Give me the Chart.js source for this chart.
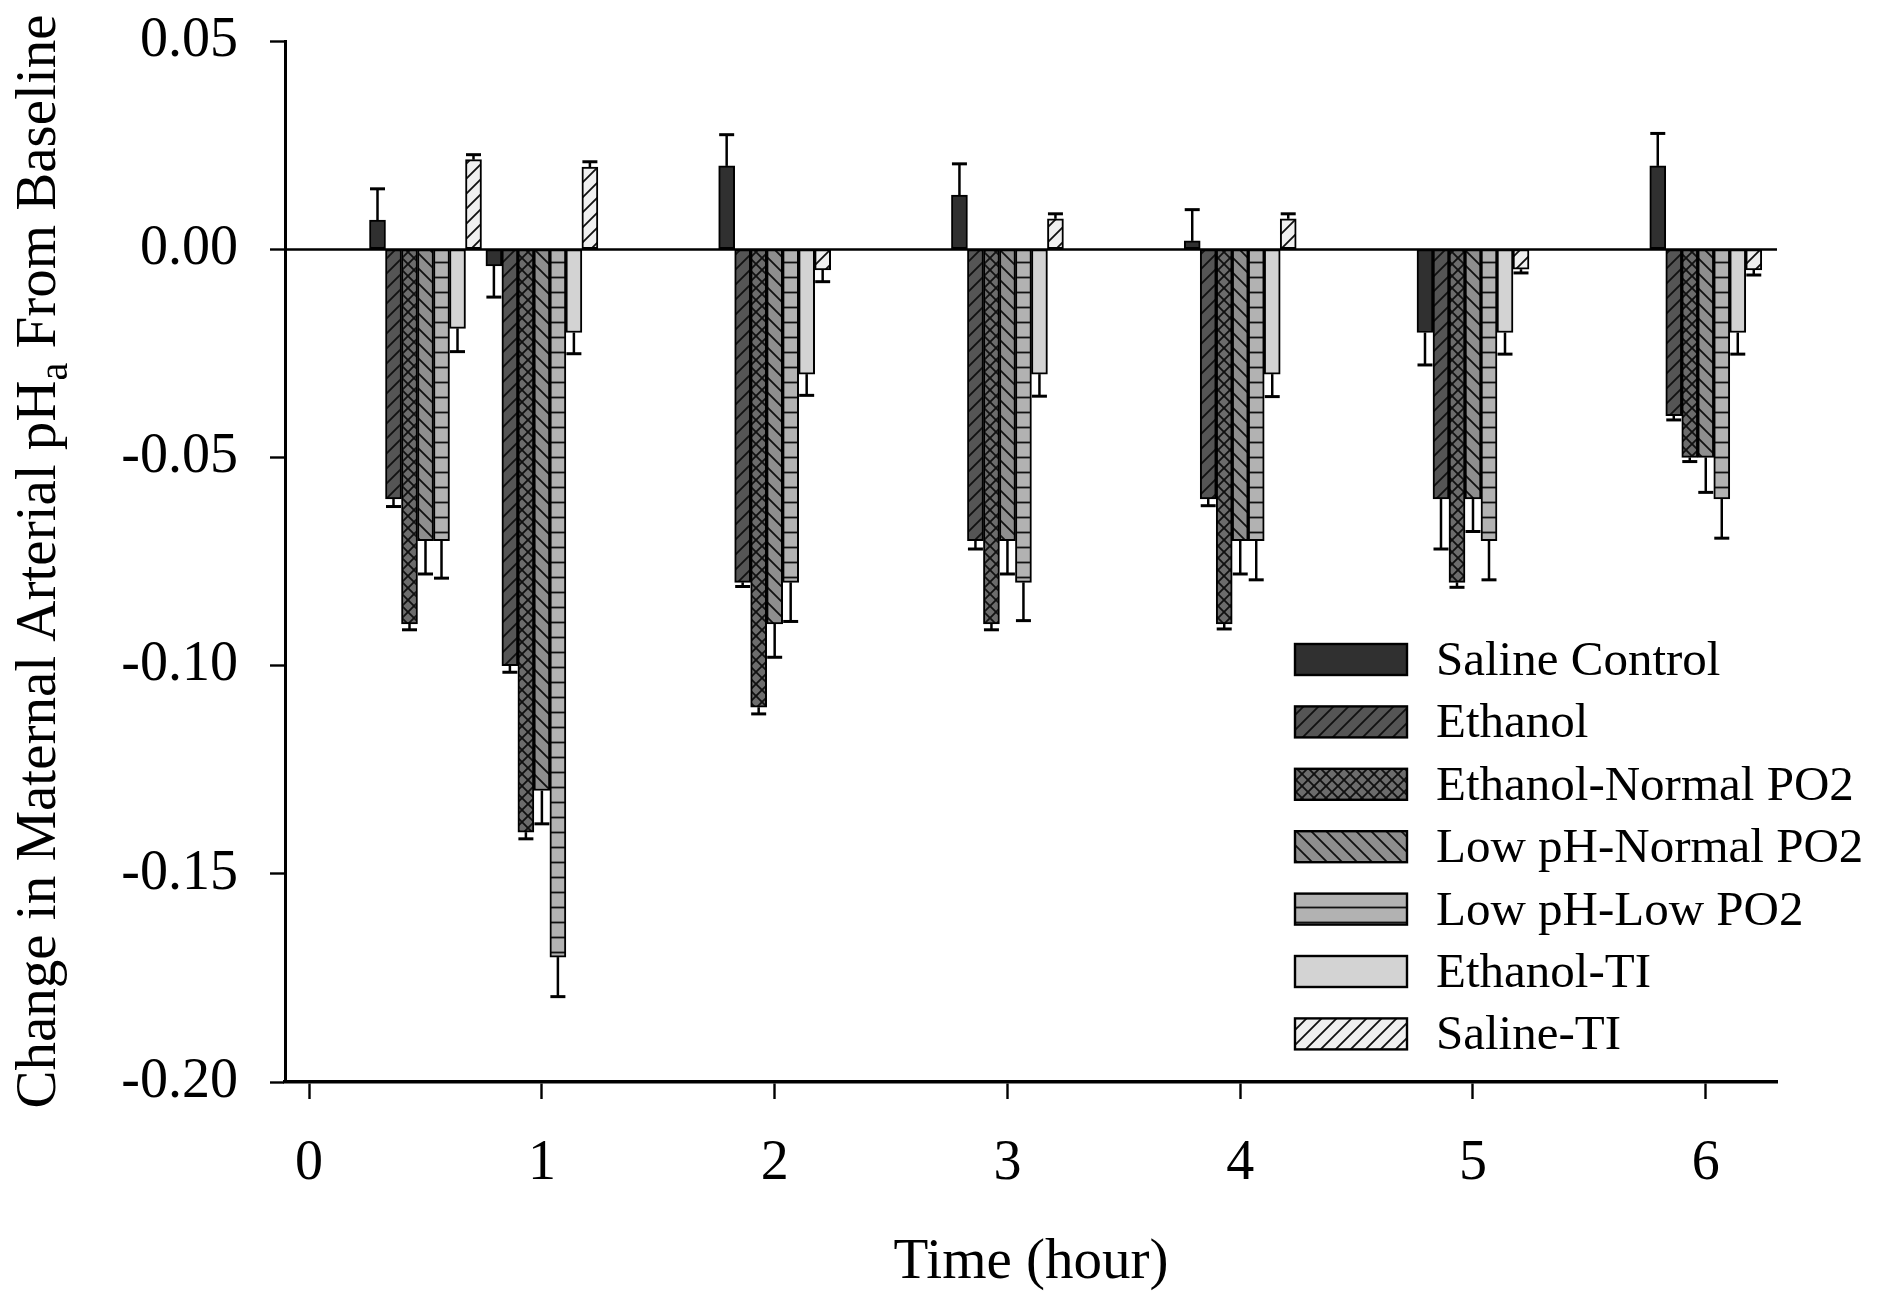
<!DOCTYPE html>
<html>
<head>
<meta charset="utf-8">
<title>Change in maternal arterial pHa</title>
<script src="https://cdn.jsdelivr.net/npm/chart.js@4.4.1/dist/chart.umd.min.js"></script>
<style>
  html, body { margin: 0; padding: 0; background: #fff; }
  canvas { display: block; }
</style>
</head>
<body>
<canvas id="phChart" width="1889" height="1296" style="width:1889px;height:1296px"></canvas>
<script>
/* Change in maternal arterial pHa from baseline, grouped bars with one-sided SE bars. */
const TIMES = [0.5, 1, 2, 3, 4, 5, 6];
const X_TICKS = [0, 1, 2, 3, 4, 5, 6];
const Y_TICKS = [-0.20, -0.15, -0.10, -0.05, 0.00, 0.05];
const X_TITLE = "Time (hour)";

const SERIES_NAMES = [
  "Saline Control", "Ethanol", "Ethanol-Normal PO2", "Low pH-Normal PO2",
  "Low pH-Low PO2", "Ethanol-TI", "Saline-TI",
];

const SALINE_CONTROL = [0.007, -0.004, 0.020, 0.013, 0.002, -0.020, 0.020];
const ETHANOL        = [-0.060, -0.100, -0.080, -0.070, -0.060, -0.060, -0.040];
const ETH_NORMAL_PO2 = [-0.090, -0.140, -0.110, -0.090, -0.090, -0.080, -0.050];
const LOWPH_NORMAL   = [-0.070, -0.130, -0.090, -0.070, -0.070, -0.060, -0.050];
const LOWPH_LOW      = [-0.070, -0.170, -0.080, -0.080, -0.070, -0.070, -0.060];
const ETHANOL_TI     = [-0.019, -0.020, -0.030, -0.030, -0.030, -0.020, -0.020];
const SALINE_TI      = [0.0215, 0.0197, -0.005, 0.0073, 0.0073, -0.0048, -0.005];

const SALINE_CONTROL_ERR = [0.0075, 0.0075, 0.0075, 0.0075, 0.0075, 0.0078, 0.0078];
const ETHANOL_ERR        = [0.0018, 0.0016, 0.0010, 0.0020, 0.0016, 0.0120, 0.0010];
const ETH_NORMAL_ERR     = [0.0014, 0.0016, 0.0016, 0.0014, 0.0012, 0.0012, 0.0010];
const LOWPH_NORMAL_ERR   = [0.0080, 0.0080, 0.0080, 0.0080, 0.0080, 0.0078, 0.0084];
const LOWPH_LOW_ERR      = [0.0090, 0.0095, 0.0094, 0.0092, 0.0094, 0.0094, 0.0094];
const ETHANOL_TI_ERR     = [0.0056, 0.0051, 0.0051, 0.0053, 0.0054, 0.0052, 0.0052];
const SALINE_TI_ERR      = [0.0012, 0.0013, 0.0028, 0.0012, 0.0012, 0.0009, 0.0012];

(function () {
  const FONT = "'Liberation Serif','Times New Roman',serif";
  const INK = "#000";

  // fill colour + hatch style per series
  const STYLE = [
    { bg: "#303030", hatch: null },
    { bg: "#555555", hatch: "fwd" },
    { bg: "#6c6c6c", hatch: "cross" },
    { bg: "#8e8e8e", hatch: "back" },
    { bg: "#b2b2b2", hatch: "horiz" },
    { bg: "#d3d3d3", hatch: null },
    { bg: "#f0f0f0", hatch: "fwd" },
  ];

  function makeFill(bg, hatch) {
    if (!hatch) return bg;
    const n = hatch === "cross" ? 12 : 15;
    const c = document.createElement("canvas");
    c.width = n; c.height = n;
    const g = c.getContext("2d");
    g.fillStyle = bg; g.fillRect(0, 0, n, n);
    g.strokeStyle = "#111"; g.lineWidth = 1.8; g.lineCap = "square";
    const fwd = () => {
      g.beginPath();
      g.moveTo(-2, n + 2); g.lineTo(n + 2, -2);
      g.moveTo(-2, 2); g.lineTo(2, -2);
      g.moveTo(n - 2, n + 2); g.lineTo(n + 2, n - 2);
      g.stroke();
    };
    const back = () => {
      g.beginPath();
      g.moveTo(-2, -2); g.lineTo(n + 2, n + 2);
      g.moveTo(n - 2, -2); g.lineTo(n + 2, 2);
      g.moveTo(-2, n - 2); g.lineTo(2, n + 2);
      g.stroke();
    };
    if (hatch === "fwd") fwd();
    if (hatch === "back") back();
    if (hatch === "cross") { fwd(); back(); }
    if (hatch === "horiz") {
      g.beginPath(); g.moveTo(0, n / 2); g.lineTo(n, n / 2); g.stroke();
    }
    return g.createPattern(c, "repeat");
  }
  const FILLS = STYLE.map((s) => makeFill(s.bg, s.hatch));

  const VALUES = [SALINE_CONTROL, ETHANOL, ETH_NORMAL_PO2, LOWPH_NORMAL, LOWPH_LOW, ETHANOL_TI, SALINE_TI];
  const ERRORS = [SALINE_CONTROL_ERR, ETHANOL_ERR, ETH_NORMAL_ERR, LOWPH_NORMAL_ERR, LOWPH_LOW_ERR, ETHANOL_TI_ERR, SALINE_TI_ERR];

  /* ---------- plugins ---------- */
  const zeroLine = {
    id: "zeroLine",
    afterDatasetsDraw(chart) {
      const { ctx, chartArea: a, scales: { y } } = chart;
      const py = Math.round(y.getPixelForValue(0)) + 0.5;
      ctx.save();
      ctx.strokeStyle = INK; ctx.lineWidth = 2.4;
      ctx.beginPath(); ctx.moveTo(a.left, py); ctx.lineTo(a.right, py); ctx.stroke();
      ctx.restore();
    },
  };

  const errorBars = {
    id: "errorBars",
    afterDatasetsDraw(chart) {
      const { ctx, scales: { y } } = chart;
      ctx.save();
      ctx.strokeStyle = INK;
      chart.data.datasets.forEach((ds, i) => {
        const meta = chart.getDatasetMeta(i);
        meta.data.forEach((bar, j) => {
          const v = VALUES[i][j], e = ERRORS[i][j];
          const end = y.getPixelForValue(v + (v >= 0 ? e : -e));
          const half = bar.width / 2 - 0.5;
          ctx.lineWidth = 2.5;
          ctx.beginPath(); ctx.moveTo(bar.x, bar.y); ctx.lineTo(bar.x, end); ctx.stroke();
          ctx.lineWidth = 3;
          ctx.beginPath(); ctx.moveTo(bar.x - half, end); ctx.lineTo(bar.x + half, end); ctx.stroke();
        });
      });
      ctx.restore();
    },
  };

  const yTitle = {
    id: "yTitle",
    afterDraw(chart) {
      const { ctx, chartArea: a } = chart;
      const main = "Change in Maternal Arterial pH", sub = "a", tail = " From Baseline";
      const big = "57px " + FONT, small = "40px " + FONT;
      ctx.save();
      ctx.font = big;
      const w1 = ctx.measureText(main).width, w3 = ctx.measureText(tail).width;
      ctx.font = small;
      const w2 = ctx.measureText(sub).width;
      const total = w1 + w2 + w3;
      ctx.translate(55, (a.top + a.bottom) / 2);
      ctx.rotate(-Math.PI / 2);
      ctx.fillStyle = INK; ctx.textBaseline = "alphabetic"; ctx.textAlign = "left";
      let x = -total / 2;
      ctx.font = big; ctx.fillText(main, x, 0); x += w1;
      ctx.font = small; ctx.fillText(sub, x, 12); x += w2;
      ctx.font = big; ctx.fillText(tail, x, 0);
      ctx.restore();
    },
  };

  const legendBox = {
    id: "legendBox",
    afterDraw(chart) {
      const { ctx } = chart;
      const x0 = 1295, sw = 112, sh = 31, top = 644, step = 62.4;
      ctx.save();
      ctx.font = "49px " + FONT;
      ctx.textBaseline = "alphabetic"; ctx.textAlign = "left";
      SERIES_NAMES.forEach((name, i) => {
        const ty = top + i * step;
        ctx.fillStyle = FILLS[i];
        ctx.fillRect(x0, ty, sw, sh);
        ctx.strokeStyle = INK; ctx.lineWidth = 2.4;
        ctx.strokeRect(x0, ty, sw, sh);
        ctx.fillStyle = INK;
        ctx.fillText(name, x0 + 141, ty + sh);
      });
      ctx.restore();
    },
  };

  /* ---------- chart ---------- */
  new Chart(document.getElementById("phChart"), {
    type: "bar",
    data: {
      datasets: SERIES_NAMES.map((name, i) => ({
        label: name,
        data: TIMES.map((t, j) => ({ x: t, y: VALUES[i][j] })),
        backgroundColor: FILLS[i],
        borderColor: INK,
        borderWidth: 2,
        borderSkipped: false,
        barThickness: 16,
      })),
    },
    options: {
      responsive: false,
      animation: false,
      devicePixelRatio: 1,
      layout: { padding: { top: 41, right: 112, left: 0, bottom: 0 } },
      plugins: { legend: { display: false }, tooltip: { enabled: false } },
      scales: {
        x: {
          type: "linear",
          min: -0.1036, max: 6.306,
          offset: false,
          afterBuildTicks: (s) => { s.ticks = X_TICKS.map((v) => ({ value: v })); },
          afterFit: (s) => { s.height = 214; s.paddingLeft = 0; s.paddingRight = 0; },
          grid: { display: true, offset: false, drawOnChartArea: false, drawTicks: true, tickLength: 17, tickWidth: 2.4, tickColor: INK },
          border: { display: true, color: INK, width: 3.5 },
          ticks: { color: INK, font: { family: FONT, size: 56 }, padding: 32, maxRotation: 0, callback: (v) => String(v) },
          title: { display: true, text: X_TITLE, color: INK, font: { family: FONT, size: 57 }, padding: { top: 0, bottom: -1 } },
        },
        y: {
          min: -0.20, max: 0.05,
          afterBuildTicks: (s) => { s.ticks = Y_TICKS.map((v) => ({ value: v })); },
          afterFit: (s) => { s.width = 285; s.paddingTop = 0; s.paddingBottom = 0; },
          grid: { display: true, drawOnChartArea: false, drawTicks: true, tickLength: 15, tickWidth: 2.4, tickColor: INK },
          border: { display: true, color: INK, width: 3 },
          ticks: { color: INK, font: { family: FONT, size: 56 }, padding: 32, callback: (v) => Number(v).toFixed(2) },
        },
      },
    },
    plugins: [zeroLine, errorBars, yTitle, legendBox],
  });
})();
</script>
</body>
</html>
